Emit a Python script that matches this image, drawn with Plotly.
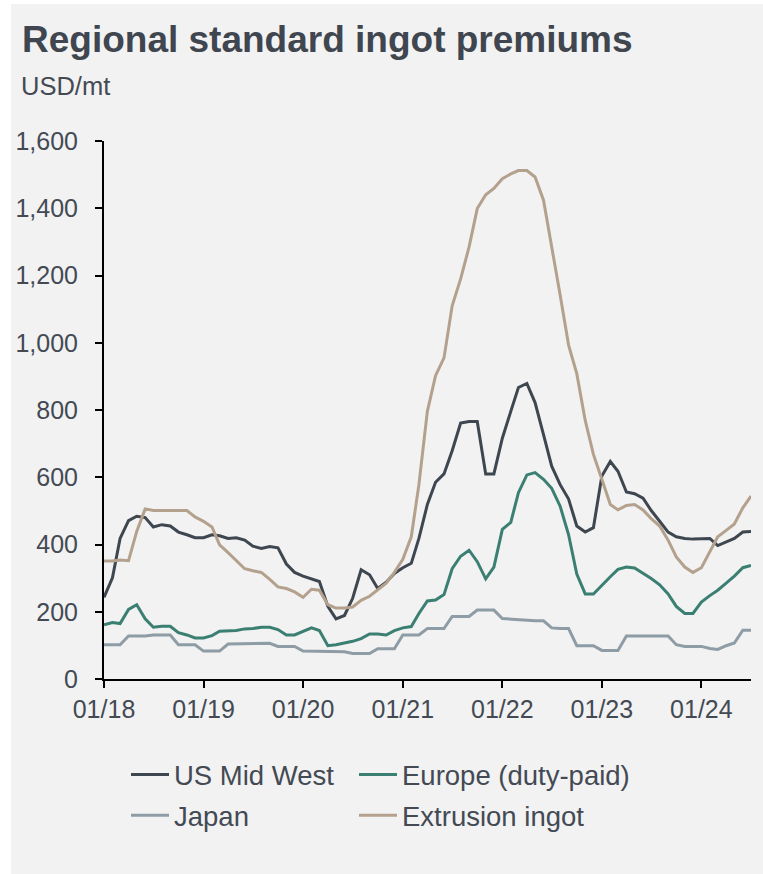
import pandas as pd
import plotly.graph_objects as go

# Monthly observations, Jan 2018 - Jul 2024
months = pd.date_range("2018-01-01", "2024-07-01", freq="MS")

us_mid_west = [
    243, 301, 418, 471, 484, 480, 452, 459, 455, 437, 429, 420,
    420, 429, 426, 418, 420, 413, 395, 388, 394, 390, 342, 317,
    306, 298, 290, 216, 179, 189, 240, 325, 310, 269, 288, 314,
    331, 344, 418, 519, 585, 610, 679, 761, 766, 766, 610, 610,
    716, 796, 867, 879, 822, 727, 633, 578, 535, 455, 437, 450,
    604, 647, 618, 556, 551, 538, 501, 469, 437, 423, 418, 416,
    416, 418, 397, 408, 418, 437, 439,
]

europe_duty_paid = [
    161, 168, 165, 207, 221, 179, 154, 157, 157, 138, 131, 122,
    122, 129, 142, 144, 144, 149, 150, 154, 154, 147, 131, 131,
    142, 152, 144, 99, 102, 107, 112, 120, 134, 134, 131, 144,
    152, 156, 195, 232, 235, 251, 328, 365, 383, 349, 298, 333,
    445, 466, 554, 607, 614, 594, 567, 514, 429, 312, 253, 253,
    280, 304, 326, 333, 330, 315, 299, 280, 253, 216, 195, 195,
    229, 248, 264, 285, 306, 331, 338,
]

japan = [
    102, 102, 102, 128, 128, 128, 131, 131, 131, 102, 102, 102,
    83, 83, 83, 104, 104, 104, 106, 106, 106, 97, 97, 97,
    83, 83, 83, 81, 81, 81, 76, 76, 76, 90, 90, 90,
    131, 131, 131, 150, 150, 150, 186, 186, 186, 205, 205, 205,
    180, 178, 177, 176, 173, 173, 152, 150, 150, 99, 99, 99,
    85, 85, 85, 128, 128, 128, 128, 128, 128, 102, 97, 97,
    97, 91, 88, 99, 107, 145, 145,
]

extrusion_ingot = [
    351, 351, 354, 352, 439, 506, 501, 501, 501, 501, 501, 482,
    469, 452, 399, 376, 352, 328, 322, 317, 296, 274, 269, 259,
    243, 267, 264, 221, 211, 211, 214, 234, 246, 264, 285, 317,
    356, 423, 578, 796, 902, 955, 1110, 1190, 1285, 1399, 1440, 1459,
    1488, 1502, 1512, 1512, 1493, 1424, 1291, 1142, 993, 908, 769, 668,
    594, 519, 503, 516, 519, 503, 477, 455, 413, 363, 333, 317,
    331, 381, 423, 442, 461, 509, 544,
]

x_tick_values = ["2018-01-01", "2019-01-01", "2020-01-01", "2021-01-01",
                 "2022-01-01", "2023-01-01", "2024-01-01"]
x_tick_labels = ["01/18", "01/19", "01/20", "01/21", "01/22", "01/23", "01/24"]
y_tick_values = [0, 200, 400, 600, 800, 1000, 1200, 1400, 1600]

FONT = "Liberation Sans, Arial, sans-serif"
TEXT = "#434a54"
BG = "#f2f2f2"

# name, values, colour, legend column
series = [
    ("US Mid West", us_mid_west, "#3e4650", "legend"),
    ("Europe (duty-paid)", europe_duty_paid, "#3b7f73", "legend2"),
    ("Japan", japan, "#8e9ca6", "legend"),
    ("Extrusion ingot", extrusion_ingot, "#b4a18d", "legend2"),
]

fig = go.Figure()
for name, values, color, leg in series:
    fig.add_trace(go.Scatter(
        x=months, y=values, name=name, mode="lines",
        line=dict(color=color, width=3),
        legend=leg, legendgroup=name,
    ))

W, H = 763, 874
L, R, T, B = 104, 12, 141, 195
pw, ph = W - L - R, H - T - B


def px_x(p):
    return (p - L) / pw


def px_y(p):
    return (H - B - p) / ph


legend_style = dict(
    orientation="v", xanchor="left", yanchor="top",
    y=px_y(750), itemwidth=38, tracegroupgap=2,
    font=dict(size=27.5, color=TEXT),
    bgcolor="rgba(0,0,0,0)",
)

fig.update_layout(
    width=W, height=H,
    margin=dict(l=L, r=R, t=T, b=B),
    paper_bgcolor=BG, plot_bgcolor=BG,
    font=dict(family=FONT, color=TEXT, size=25),
    title=dict(
        text="<b>Regional standard ingot premiums</b>",
        xref="container", yref="container",
        x=22 / W, xanchor="left", y=1 - 39 / H, yanchor="middle",
        font=dict(size=37, color="#3f4650", family=FONT),
    ),
    xaxis=dict(
        type="date",
        range=["2018-01-01", "2024-07-01"],
        tickvals=x_tick_values, ticktext=x_tick_labels,
        showgrid=False, zeroline=False,
        showline=True, linecolor="#000", linewidth=2,
        ticks="outside", ticklen=7, tickwidth=2, tickcolor="#000",
        tickfont=dict(size=25, color=TEXT),
    ),
    yaxis=dict(
        range=[0, 1600],
        tickvals=y_tick_values, tickformat=",",
        showgrid=False, zeroline=False,
        showline=True, linecolor="#000", linewidth=2,
        ticks="outside", ticklen=7, tickwidth=2, tickcolor="#000",
        tickfont=dict(size=25, color=TEXT),
        ticklabelstandoff=12,
    ),
    legend=dict(x=px_x(126), **legend_style),
    legend2=dict(x=px_x(354), **legend_style),
    showlegend=True,
    annotations=[dict(
        text="USD/mt", xref="paper", yref="paper",
        x=px_x(19), xanchor="left", y=px_y(86), yanchor="middle",
        showarrow=False, font=dict(size=25.5, color=TEXT),
    )],
    shapes=[
        dict(type="rect", xref="paper", yref="paper", layer="below",
             x0=px_x(0), x1=px_x(11), y0=px_y(H), y1=px_y(0),
             fillcolor="#ffffff", line=dict(width=0)),
        dict(type="rect", xref="paper", yref="paper", layer="below",
             x0=px_x(0), x1=px_x(W), y0=px_y(4), y1=px_y(0),
             fillcolor="#ffffff", line=dict(width=0)),
    ],
)

fig.write_html("out.html")
